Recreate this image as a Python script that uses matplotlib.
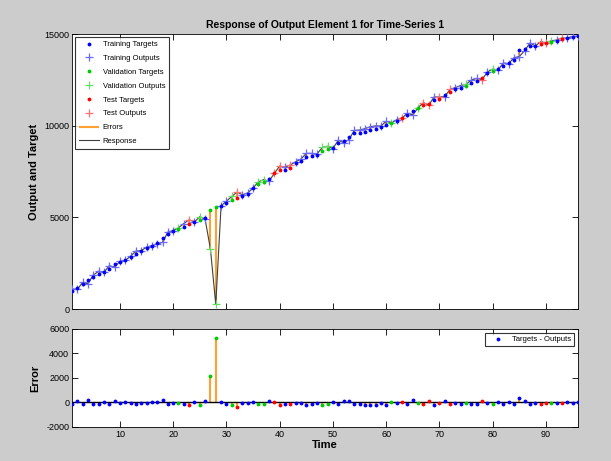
import matplotlib.pyplot as plt
import numpy as np

plt.rcParams['font.family'] = ['Liberation Sans Narrow', 'Liberation Sans', 'DejaVu Sans']
plt.rcParams['axes.unicode_minus'] = False

# Valores
tiempo = np.arange(1, 97)

objetivos = [1000, 1150, 1350, 1600, 1750, 1900, 2000, 2200, 2450, 2550,
             2700, 2850, 3000, 3150, 3350, 3450, 3600, 3850, 4100, 4250,
             4350, 4500, 4650, 4750, 4850, 4980, 5420, 5550, 5630, 5780,
             5950, 6050, 6150, 6300, 6600, 6800, 6920, 7080, 7400, 7580,
             7600, 7700, 7950, 8100, 8300, 8350, 8420, 8620, 8720, 8800,
             9050, 9150, 9380, 9600, 9620, 9650, 9750, 9800, 9930, 10050,
             10150, 10250, 10420, 10580, 10800, 10960, 11150, 11200, 11380, 11480,
             11700, 11840, 12000, 12050, 12180, 12350, 12440, 12620, 12850, 12980,
             13090, 13280, 13440, 13570, 14150, 14200, 14370, 14320, 14440, 14500,
             14550, 14620, 14710, 14770, 14820, 14880]

errores = [-100, 80, -100, 220, -100, -160, 0, -160, 160, -50,
           50, -30, -160, -30, -30, 0, 50, 220, -100, -30,
           -80, -160, -220, 0, -190, 80, 2150, 5300, 0, -100,
           -190, -330, -80, -30, 0, -140, -140, 110, 0, -220,
           -140, -160, -80, -80, -190, -140, -30, -190, -160, 50,
           -160, 80, 140, -140, -140, -190, -190, -190, -50, -190,
           0, -80, 0, -110, 220, -30, -110, 80, -190, -80,
           110, -140, -80, -140, -80, -140, -140, 110, -80, -110,
           50, -140, 50, -140, 380, 110, -140, -30, -140, -30,
           -80, -50, -80, 0, -50, 0]

# conjunto de cada punto: e = entrenamiento, v = validacion, p = prueba
conjunto = ("eeeeeeeeee" "eeeeeeeeee" "vepevevvee" "vpeeevvepp" "epeeeeevve"
            "eeeeeeeeee" "vepeevppep" "epeeveepev" "eeeeeeeepp" "vepeee")

objetivos = np.array(objetivos, dtype=float)
errores = np.array(errores, dtype=float)
salidas = objetivos - errores
conj = np.array(list(conjunto))

naranja = '#ffa030'
colores = {'e': '#0000ff', 'v': '#00cc00', 'p': '#ff0000'}
colores_claros = {'e': '#6a6aff', 'v': '#66dd66', 'p': '#ff7070'}
nombres = {'e': 'Training', 'v': 'Validation', 'p': 'Test'}

fig = plt.figure(figsize=(6.11, 4.61), dpi=100)
fig.patch.set_facecolor('#cccccc')
ax1 = fig.add_axes([0.1178, 0.3297, 0.828, 0.5965])
ax2 = fig.add_axes([0.1178, 0.0738, 0.828, 0.2126])

# grafica superior
for k in ['e', 'v', 'p']:
    m = conj == k
    ax1.plot(tiempo[m], objetivos[m], '.', color=colores[k], ms=3.5,
             label=nombres[k] + ' Targets', zorder=4)
    ax1.plot(tiempo[m], salidas[m], '+', color=colores_claros[k], ms=5.5, mew=0.9,
             label=nombres[k] + ' Outputs', zorder=3)
ax1.vlines(tiempo, salidas, objetivos, color=naranja, lw=1.5, label='Errors', zorder=2)
ax1.plot(tiempo, salidas, '-', color='#404040', lw=0.8, label='Response', zorder=2.5)

ax1.set_xlim(1, 96)
ax1.set_ylim(0, 15000)
ax1.set_yticks([0, 5000, 10000, 15000])
ax1.set_xticks(np.arange(10, 91, 10))
ax1.set_xticklabels([])
ax1.set_ylabel('Output and Target', fontsize=8, fontweight='bold',
               family=['Liberation Sans', 'DejaVu Sans'])
ax1.set_title('Response of Output Element 1 for Time-Series 1', fontsize=7.5,
              fontweight='bold', family=['Liberation Sans', 'DejaVu Sans'], pad=4)
leg = ax1.legend(loc='upper left', fontsize=5.5, frameon=True, fancybox=False,
                 edgecolor='black', handlelength=2.6, handletextpad=0.5,
                 borderpad=0.5, labelspacing=0.85, borderaxespad=0.4)
leg.get_frame().set_linewidth(0.8)

# grafica inferior
ax2.vlines(tiempo, 0, errores, color=naranja, lw=1.5, zorder=2)
ax2.axhline(0, color='black', lw=1, zorder=2.5)
for k in ['e', 'v', 'p']:
    m = conj == k
    ax2.plot(tiempo[m], errores[m], '.', color=colores[k], ms=3.5, zorder=4,
             label='Targets - Outputs' if k == 'e' else None)
ax2.set_xlim(1, 96)
ax2.set_ylim(-2000, 6000)
ax2.set_yticks([-2000, 0, 2000, 4000, 6000])
ax2.set_xticks(np.arange(10, 91, 10))
ax2.set_ylabel('Error', fontsize=8, fontweight='bold',
               family=['Liberation Sans', 'DejaVu Sans'])
ax2.set_xlabel('Time', fontsize=8, fontweight='bold',
               family=['Liberation Sans', 'DejaVu Sans'], labelpad=1)
leg2 = ax2.legend(loc='upper right', fontsize=5.5, frameon=True, fancybox=False,
                  edgecolor='black', handlelength=2.6, handletextpad=0.5,
                  borderaxespad=0.5)
leg2.get_frame().set_linewidth(0.8)

for ax in (ax1, ax2):
    ax.tick_params(direction='in', top=True, right=True, labelsize=6.5,
                   length=4, width=0.6, pad=2)
    for s in ax.spines.values():
        s.set_linewidth(0.6)

fig.savefig('out.png', dpi=100, facecolor=fig.get_facecolor())
